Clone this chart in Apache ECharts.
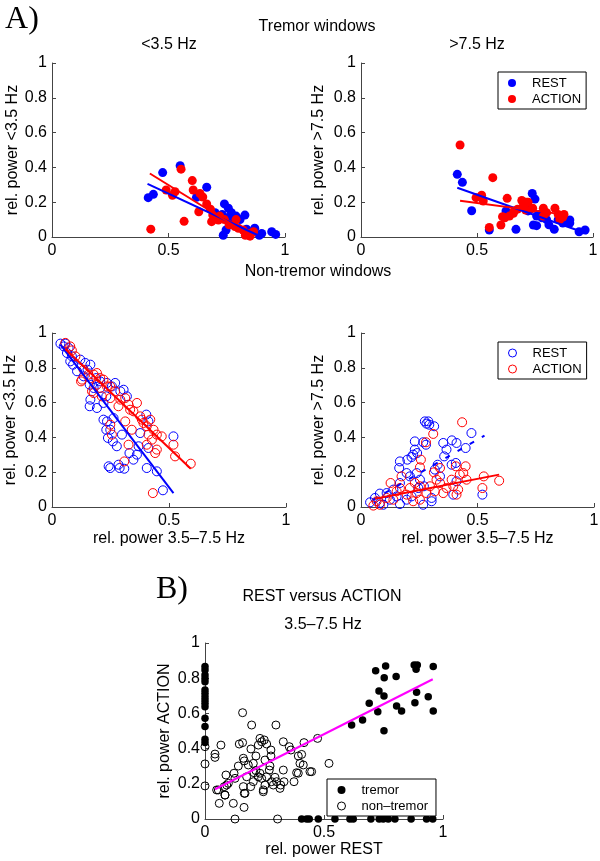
<!DOCTYPE html>
<html>
<head>
<meta charset="utf-8">
<script src="https://cdn.jsdelivr.net/npm/echarts@6/dist/echarts.min.js"></script>
<style>
html, body { margin: 0; padding: 0; background: #fff; }
#chart { width: 600px; height: 861px; }
</style>
</head>
<body>
<div id="chart"></div>
<script>
// ---- data ----
// A) tremor windows, <3.5 Hz vs 3.5-7.5 Hz
var tremLowRest = [[0.55,0.41],[0.475,0.37],[0.413,0.226],[0.435,0.245],[0.664,0.286],[0.62,0.228],[0.74,0.19],[0.757,0.165],[0.73,0.13],[0.75,0.11],[0.77,0.14],[0.79,0.12],[0.828,0.126],[0.735,0.01],[0.747,0.04],[0.87,0.05],[0.943,0.03],[0.96,0.015],[0.89,0.01],[0.807,0.1],[0.78,0.1],[0.835,0.045],[0.86,0.03],[0.9,0.02],[0.72,0.12],[0.7,0.14]];
var tremLowAction = [[0.554,0.39],[0.424,0.045],[0.602,0.324],[0.49,0.27],[0.517,0.24],[0.528,0.26],[0.606,0.27],[0.635,0.25],[0.647,0.23],[0.567,0.09],[0.63,0.145],[0.664,0.19],[0.69,0.126],[0.685,0.088],[0.714,0.098],[0.7,0.11],[0.785,0.06],[0.8,0.05],[0.79,0.1],[0.843,0.02],[0.85,0.005],[0.865,0.03],[0.83,0.01],[0.74,0.1],[0.72,0.12],[0.68,0.16],[0.82,0.04],[0.76,0.07]];
var tremLowRestFit = [[0.41,0.305],[0.9,0.0]];
var tremLowActionFit = [[0.42,0.365],[0.86,0.0]];

// A) tremor windows, >7.5 Hz
var tremHighRest = [[0.415,0.36],[0.437,0.314],[0.477,0.151],[0.553,0.04],[0.668,0.044],[0.738,0.25],[0.75,0.218],[0.625,0.15],[0.743,0.069],[0.757,0.065],[0.833,0.044],[0.81,0.07],[0.757,0.12],[0.77,0.13],[0.8,0.1],[0.88,0.09],[0.9,0.08],[0.966,0.04],[0.94,0.03],[0.9,0.098],[0.87,0.08],[0.73,0.16],[0.72,0.15],[0.78,0.11],[0.85,0.1]];
var tremHighAction = [[0.427,0.529],[0.568,0.341],[0.52,0.24],[0.496,0.226],[0.527,0.207],[0.63,0.222],[0.553,0.055],[0.603,0.069],[0.61,0.117],[0.64,0.12],[0.657,0.136],[0.675,0.16],[0.693,0.21],[0.714,0.2],[0.7,0.18],[0.71,0.155],[0.74,0.165],[0.786,0.165],[0.8,0.14],[0.836,0.165],[0.85,0.13],[0.87,0.115],[0.857,0.1],[0.786,0.12],[0.875,0.13],[0.72,0.2],[0.66,0.15],[0.62,0.11]];
var tremHighRestFit = [[0.415,0.283],[0.973,0.02]];
var tremHighActionFit = [[0.427,0.209],[0.87,0.13]];

// A) non-tremor windows, <3.5 Hz
var nonLowRest = [[0.036,0.939],[0.057,0.939],[0.071,0.914],[0.064,0.885],[0.078,0.837],[0.09,0.818],[0.121,0.847],[0.142,0.828],[0.164,0.818],[0.152,0.789],[0.161,0.703],[0.164,0.617],[0.161,0.579],[0.192,0.569],[0.22,0.598],[0.232,0.636],[0.22,0.502],[0.235,0.492],[0.232,0.444],[0.239,0.397],[0.26,0.377],[0.277,0.349],[0.242,0.234],[0.249,0.224],[0.284,0.243],[0.289,0.224],[0.309,0.22],[0.348,0.272],[0.363,0.301],[0.37,0.349],[0.405,0.224],[0.448,0.205],[0.474,0.096],[0.519,0.406],[0.403,0.531],[0.412,0.492],[0.412,0.339],[0.377,0.425],[0.206,0.722],[0.235,0.713],[0.27,0.713],[0.292,0.665],[0.306,0.674],[0.256,0.693],[0.32,0.636],[0.299,0.416],[0.178,0.684],[0.135,0.751],[0.107,0.78],[0.085,0.866],[0.05,0.923],[0.189,0.741],[0.206,0.684],[0.263,0.511],[0.249,0.444],[0.331,0.31]];
var nonLowAction = [[0.057,0.943],[0.078,0.923],[0.085,0.9],[0.128,0.732],[0.156,0.761],[0.178,0.761],[0.192,0.77],[0.206,0.741],[0.22,0.732],[0.235,0.693],[0.249,0.693],[0.178,0.655],[0.213,0.636],[0.249,0.626],[0.27,0.665],[0.292,0.617],[0.313,0.626],[0.334,0.559],[0.348,0.55],[0.327,0.588],[0.363,0.598],[0.384,0.502],[0.405,0.464],[0.42,0.502],[0.434,0.444],[0.448,0.416],[0.427,0.387],[0.405,0.358],[0.441,0.31],[0.448,0.33],[0.469,0.406],[0.519,0.358],[0.526,0.291],[0.593,0.249],[0.431,0.08],[0.309,0.262],[0.256,0.416],[0.249,0.473],[0.313,0.492],[0.341,0.444],[0.124,0.722],[0.171,0.665],[0.192,0.703],[0.284,0.579],[0.377,0.521],[0.391,0.483],[0.412,0.416],[0.135,0.789],[0.164,0.741],[0.1,0.866],[0.327,0.358]];
var nonLowRestFit = [[0.036,0.933],[0.519,0.08]];
var nonLowActionFit = [[0.057,0.908],[0.593,0.22]];

// A) non-tremor windows, >7.5 Hz
var nonHighRest = [[0.274,0.492],[0.289,0.492],[0.281,0.479],[0.293,0.473],[0.314,0.464],[0.231,0.377],[0.267,0.372],[0.279,0.358],[0.199,0.272],[0.167,0.262],[0.164,0.224],[0.224,0.301],[0.231,0.33],[0.241,0.31],[0.217,0.287],[0.353,0.368],[0.39,0.383],[0.41,0.368],[0.367,0.33],[0.357,0.291],[0.389,0.243],[0.407,0.253],[0.474,0.425],[0.449,0.339],[0.329,0.243],[0.396,0.071],[0.521,0.071],[0.196,0.195],[0.21,0.176],[0.239,0.195],[0.253,0.157],[0.27,0.119],[0.167,0.138],[0.139,0.1],[0.11,0.08],[0.081,0.077],[0.06,0.052],[0.039,0.027],[0.081,0.023],[0.167,0.017],[0.267,0.013],[0.303,0.033],[0.303,0.052],[0.217,0.061],[0.124,0.042],[0.096,0.013],[0.317,0.215],[0.339,0.176],[0.41,0.148],[0.246,0.109],[0.153,0.061],[0.196,0.042]];
var nonHighAction = [[0.434,0.487],[0.31,0.42],[0.279,0.372],[0.257,0.272],[0.253,0.228],[0.313,0.199],[0.339,0.224],[0.407,0.234],[0.449,0.234],[0.424,0.186],[0.527,0.176],[0.593,0.151],[0.521,0.109],[0.127,0.138],[0.174,0.176],[0.231,0.138],[0.253,0.119],[0.296,0.119],[0.339,0.138],[0.367,0.109],[0.396,0.119],[0.417,0.1],[0.453,0.157],[0.153,0.09],[0.196,0.071],[0.239,0.08],[0.281,0.08],[0.317,0.09],[0.353,0.08],[0.41,0.071],[0.067,0.033],[0.053,0.008],[0.081,0.013],[0.11,0.052],[0.139,0.042],[0.224,0.033],[0.253,0.042],[0.167,0.109],[0.21,0.109],[0.389,0.157],[0.439,0.195],[0.324,0.157]];
var nonHighRestFit = [[0.05,0.04],[0.53,0.41]];
var nonHighActionFit = [[0.06,0.048],[0.593,0.186]];

// B) REST versus ACTION, 3.5-7.5 Hz
var bothTremor = [[0.717,0.843],[0.759,0.869],[0.753,0.803],[0.803,0.809],[0.879,0.875],[0.892,0.875],[0.887,0.851],[0.959,0.866],[0.731,0.727],[0.752,0.699],[0.889,0.72],[0.938,0.695],[0.69,0.657],[0.726,0.61],[0.805,0.642],[0.826,0.614],[0.882,0.661],[0.959,0.614],[0.662,0.563],[0.616,0.534],[0.752,0.502],
  [0,0.866],[0,0.847],[0,0.818],[0,0.799],[0,0.78],[0,0.733],[0,0.714],[0,0.695],[0,0.676],[0,0.657],[0,0.638],[0,0.572],[0,0.525],[0,0.453],[0,0.434],
  [0.406,0],[0.427,0],[0.438,0],[0.476,0],[0.546,0],[0.609,0],[0.623,0],[0.697,0],[0.732,0],[0.749,0],[0.77,0],[0.798,0],[0.866,0],[0.931,0],[0.957,0]];
var bothNonTremor = [[0,0.411],[0,0.313],[0,0.188],[0.126,0],[0.305,0],
  [0.158,0.604],[0.196,0.534],[0.298,0.534],[0.042,0.369],[0.042,0.35],[0.067,0.42],[0.158,0.434],[0.144,0.426],[0.231,0.458],[0.238,0.439],[0.249,0.449],[0.224,0.42],[0.259,0.426],[0.329,0.439],[0.354,0.411],[0.361,0.392],[0.416,0.434],[0.473,0.458],[0.406,0.367],[0.392,0.358],[0.521,0.316],[0.448,0.269],[0.413,0.307],[0.392,0.26],[0.374,0.212],[0.161,0.345],[0.165,0.33],[0.14,0.301],[0.203,0.316],[0.193,0.398],[0.252,0.335],[0.273,0.301],[0.27,0.278],[0.214,0.275],[0.206,0.263],[0.224,0.24],[0.238,0.231],[0.259,0.24],[0.294,0.237],[0.301,0.212],[0.318,0.193],[0.315,0.174],[0.287,0.193],[0.252,0.193],[0.245,0.155],[0.192,0.184],[0.161,0.184],[0.165,0.146],[0.126,0.231],[0.088,0.25],[0.098,0.203],[0.081,0.184],[0.084,0.136],[0.056,0.165],[0.122,0.26],[0.329,0.278],[0.332,0.212],[0.182,0.307],[0.231,0.26],[0.214,0.358],[0.277,0.358],[0.277,0.392],[0.175,0.24],[0.203,0.212],
  [0.06,0.089],[0.119,0.089],[0.164,0.066],[0.168,0.146],[0.049,0.165],[0.084,0.136],[0.091,0.193],[0.245,0.165],[0.28,0.212],[0.441,0.269],[0.385,0.263],[0.399,0.316]];
var bothFit = [[0.042,0.169],[0.957,0.794]];

var xTicks = [0, 0.5, 1];
var yTicks = [0, 0.2, 0.4, 0.6, 0.8, 1];

var blue = '#0000ff', red = '#ff0000', magenta = '#ff00ff';
var FONT = 'Liberation Sans, Arial, Helvetica, sans-serif';

var dom = document.getElementById('chart');
var myChart = echarts.init(dom, null, {renderer: 'canvas'});

// grid boxes in pixels
var grids = [
    {left: 52, top: 63, width: 233, height: 174},
    {left: 361, top: 63, width: 232, height: 174},
    {left: 52, top: 333, width: 234, height: 174},
    {left: 361, top: 333, width: 233, height: 174},
    {left: 205, top: 643, width: 238, height: 176}
];
grids.forEach(function (g) { g.containLabel = false; g.outerBoundsMode = 'none'; });

function axisBase() {
    return {
        min: 0, max: 1,
        axisLine: {show: true, onZero: false, lineStyle: {color: '#444', width: 1}},
        axisTick: {show: true, inside: true, length: 4, lineStyle: {color: '#444', width: 1}},
        axisLabel: {color: '#000', fontSize: 16, fontFamily: FONT, margin: 6},
        splitLine: {show: false},
        nameTextStyle: {color: '#000', fontSize: 16, fontFamily: FONT}
    };
}
function xAx(i, name, gap) {
    var a = axisBase();
    a.type = 'value'; a.gridIndex = i; a.interval = xTicks[1] - xTicks[0];
    if (name) { a.name = name; a.nameLocation = 'middle'; a.nameGap = gap; }
    return a;
}
function yAx(i, name, gap) {
    var a = axisBase();
    a.type = 'value'; a.gridIndex = i; a.interval = yTicks[1] - yTicks[0];
    a.axisLabel.margin = 5;
    a.name = name; a.nameLocation = 'middle'; a.nameRotate = 90; a.nameGap = gap;
    return a;
}

function dots(name, data, i, color, size, hollow) {
    return {
        name: name, type: 'scatter', xAxisIndex: i, yAxisIndex: i,
        data: data, symbol: 'circle', symbolSize: size, clip: false,
        itemStyle: hollow ? {color: 'rgba(0,0,0,0)', borderColor: color, borderWidth: 1, opacity: 1}
                          : {color: color, opacity: 1},
        emphasis: {disabled: true}
    };
}
function fit(data, i, color, dashed) {
    return {
        type: 'line', xAxisIndex: i, yAxisIndex: i, data: data,
        symbol: 'none', silent: true, clip: false,
        lineStyle: {color: color, width: 2, type: dashed ? [5, 9] : 'solid'}
    };
}

// left/top place the legend content; the box is drawn padding pixels outside it
// items: [name, colour, hollow]
function legendBox(top, left, items, padRight) {
    return {
        orient: 'vertical', left: left, top: top,
        itemWidth: 30, itemHeight: 8, itemGap: 0,
        padding: [3, padRight || 5, 2, 10],
        borderColor: '#000', borderWidth: 1, borderRadius: 0,
        backgroundColor: '#fff',
        textStyle: {color: '#000', fontSize: 13, fontFamily: FONT, lineHeight: 16},
        selectedMode: false,
        data: items.map(function (it) {
            return {
                name: it[0], icon: 'circle',
                itemStyle: it[2] ? {color: 'rgba(0,0,0,0)', borderColor: it[1], borderWidth: 1}
                                 : {color: it[1], borderWidth: 0}
            };
        })
    };
}

function label(text, x, y, size, family) {
    return {
        type: 'text', x: x, y: y, silent: true,
        style: {
            text: text, fill: '#000',
            font: size + 'px ' + (family || FONT),
            align: 'center', verticalAlign: 'middle',
            textAlign: 'center', textVerticalAlign: 'middle'
        }
    };
}

var option = {
    animation: false,
    backgroundColor: '#fff',
    grid: grids,
    xAxis: [
        xAx(0), xAx(1),
        xAx(2, 'rel. power 3.5\u20137.5 Hz', 24),
        xAx(3, 'rel. power 3.5\u20137.5 Hz', 24),
        xAx(4, 'rel. power REST', 23)
    ],
    yAxis: [
        yAx(0, 'rel. power <3.5 Hz', 30),
        yAx(1, 'rel. power >7.5 Hz', 34),
        yAx(2, 'rel. power <3.5 Hz', 33),
        yAx(3, 'rel. power >7.5 Hz', 34),
        yAx(4, 'rel. power ACTION', 32)
    ],
    legend: [
        legendBox(72, 498, [['REST', blue, false], ['ACTION', red, false]]),
        legendBox(342, 498, [['REST', blue, true], ['ACTION', red, true]]),
        legendBox(779, 327, [['tremor', '#000', false], ['non\u2013tremor', '#000', true]], 8)
    ],
    graphic: [
        label('A)', 22, 20, 32, 'Liberation Serif, Times New Roman, serif'),
        label('Tremor windows', 317, 27, 16),
        label('<3.5 Hz', 169, 45, 16),
        label('>7.5 Hz', 477, 45, 16),
        label('Non-tremor windows', 318, 272, 16),
        label('B)', 172, 590, 32, 'Liberation Serif, Times New Roman, serif'),
        label('REST versus ACTION', 322, 597, 16),
        label('3.5\u20137.5 Hz', 323, 625, 16)
    ],
    series: [
        dots('REST', tremLowRest, 0, blue, 9, false),
        dots('ACTION', tremLowAction, 0, red, 9, false),
        fit(tremLowRestFit, 0, blue),
        fit(tremLowActionFit, 0, red),

        dots('REST', tremHighRest, 1, blue, 9, false),
        dots('ACTION', tremHighAction, 1, red, 9, false),
        fit(tremHighRestFit, 1, blue),
        fit(tremHighActionFit, 1, red),

        dots('REST', nonLowRest, 2, blue, 9, true),
        dots('ACTION', nonLowAction, 2, red, 9, true),
        fit(nonLowRestFit, 2, blue),
        fit(nonLowActionFit, 2, red),

        dots('REST', nonHighRest, 3, blue, 9, true),
        dots('ACTION', nonHighAction, 3, red, 9, true),
        fit(nonHighRestFit, 3, blue, true),
        fit(nonHighActionFit, 3, red),

        dots('tremor', bothTremor, 4, '#000', 7.5, false),
        dots('non\u2013tremor', bothNonTremor, 4, '#000', 8, true),
        fit(bothFit, 4, magenta)
    ]
};

myChart.setOption(option);
</script>
</body>
</html>
